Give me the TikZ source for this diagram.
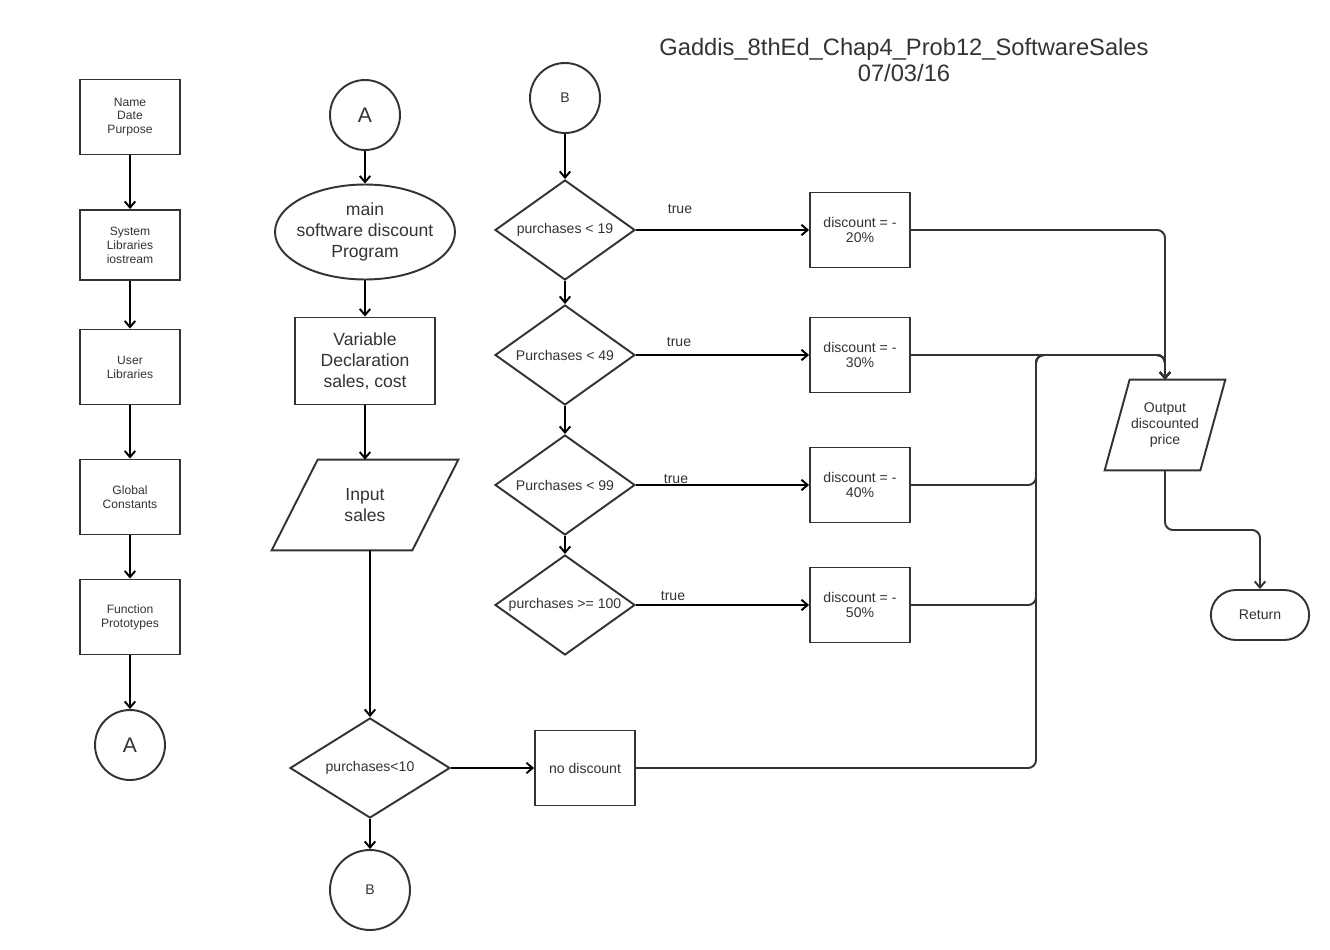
\documentclass[tikz,border=0pt]{standalone}
\usepackage{fontspec}
\setmainfont{Liberation Sans}
\usetikzlibrary{shapes.geometric,shapes.misc,arrows.meta}
\definecolor{ink}{HTML}{333333}

\begin{document}
\begin{tikzpicture}[x=0.02cm,y=-0.02cm,
    >={Straight Barb[length=3.5pt,width=6pt]},
    every node/.style={text=ink,font=\fontsize{8}{9}\selectfont,align=center},
    smallbox/.style={draw=ink,line width=1.1pt,minimum width=2cm,minimum height=1.5cm,inner sep=1pt,font=\fontsize{6.9}{7.9}\selectfont},
    box/.style={draw=ink,line width=1.1pt,minimum width=2cm,minimum height=1.5cm,inner sep=1pt},
    bigbox/.style={box,minimum width=2.8cm,minimum height=1.74cm,font=\fontsize{10}{11.9}\selectfont},
    decision/.style={draw=ink,line width=1.1pt,diamond,aspect=1.4,minimum width=2.8cm,minimum height=2cm,inner sep=0pt},
    connector/.style={draw=ink,line width=1.1pt,circle,minimum size=1.4cm,inner sep=0pt},
    iobody/.style={inner sep=1pt},
    slanted/.style={draw=ink,line width=1.1pt,line join=miter},
    terminal/.style={draw=ink,line width=1.1pt,rounded rectangle,minimum width=2.2cm,minimum height=1cm},
    flow/.style={->,line width=1.1pt},
    merge/.style={->,draw=ink,line width=1.1pt,rounded corners=4.5pt}]
    \useasboundingbox (0,0) rectangle (1330,950);
    % title
    \node[font=\fontsize{13.5}{14.7}\selectfont] at (904,60) (title) {Gaddis\_8thEd\_Chap4\_Prob12\_SoftwareSales\\07/03/16};
    % left column
    \node[smallbox] at (130,117) (header) {Name\\Date\\Purpose};
    \node[smallbox,minimum height=1.4cm] at (130,245) (syslib) {System\\Libraries\\iostream};
    \node[smallbox] at (130,367) (userlib) {User\\Libraries};
    \node[smallbox] at (130,497) (globals) {Global\\Constants};
    \node[smallbox] at (130,617) (protos) {Function\\Prototypes};
    \node[connector,font=\fontsize{12}{13}\selectfont] at (130,745) (a_out) {A};
    \draw[flow] (header)--(syslib);
    \draw[flow] (syslib)--(userlib);
    \draw[flow] (userlib)--(globals);
    \draw[flow] (globals)--(protos);
    \draw[flow] (protos)--(a_out);
    % main column
    \node[connector,font=\fontsize{12}{13}\selectfont] at (365,115) (a_in) {A};
    \node[draw=ink,line width=1.1pt,ellipse,minimum width=3.6cm,minimum height=1.9cm,inner xsep=-3.5pt,inner ysep=0pt,font=\fontsize{10}{11.9}\selectfont] at (365,232) (main) {main\\software discount\\Program};
    \node[bigbox] at (365,361) (vars) {Variable\\Declaration\\sales, cost};
    \node[iobody,minimum width=2.8cm,minimum height=1.8cm,font=\fontsize{10}{11.9}\selectfont] at (365,505) (input) {Input\\sales};
    \draw[slanted] ([xshift=-0.46cm]input.south west) -- ([xshift=0.46cm]input.north west)
        -- ([xshift=0.46cm]input.north east) -- ([xshift=-0.46cm]input.south east) -- cycle;
    \node[decision,aspect=1.6,minimum width=3.2cm] at (370,768) (less10) {purchases<10};
    \node[box] at (585,768) (nodisc) {no discount};
    \node[connector,minimum size=1.6cm] at (370,890) (b_out) {B};
    \draw[flow] (a_in)--(main);
    \draw[flow] (main)--(vars);
    \draw[flow] (vars)--(input);
    \draw[flow] (less10.north |- input.south)--(less10.north);
    \draw[flow] (less10)--(nodisc);
    \draw[flow] (less10)--(b_out);
    % discount chain
    \node[connector] at (565,98) (b_in) {B};
    \node[decision] at (565,230) (less19) {purchases < 19};
    \node[decision] at (565,355) (less49) {Purchases < 49};
    \node[decision] at (565,485) (less99) {Purchases < 99};
    \node[decision] at (565,605) (over100) {purchases >= 100};
    \node[box] at (860,230) (d20) {discount = -\\20\%};
    \node[box] at (860,355) (d30) {discount = -\\30\%};
    \node[box] at (860,485) (d40) {discount = -\\40\%};
    \node[box] at (860,605) (d50) {discount = -\\50\%};
    \draw[flow] (b_in)--(less19);
    \draw[flow] (less19)--(less49);
    \draw[flow] (less49)--(less99);
    \draw[flow] (less99)--(over100);
    \draw[flow] (less19)--(d20);
    \draw[flow] (less49)--(d30);
    \draw[flow] (less99)--(d40);
    \draw[flow] (over100)--(d50);
    % true labels
    \node[] at (680,209) (t19) {true};
    \node[] at (679,342) (t49) {true};
    \node[] at (676,479) (t99) {true};
    \node[] at (673,596) (t100) {true};
    % output and return
    \node[iobody,minimum width=1.9cm,minimum height=1.8cm] at (1165,425) (output) {Output\\discounted\\price};
    \draw[slanted] ([xshift=-0.25cm]output.south west) -- ([xshift=0.25cm]output.north west)
        -- ([xshift=0.25cm]output.north east) -- ([xshift=-0.25cm]output.south east) -- cycle;
    \node[terminal] at (1260,615) (ret) {Return};
    \coordinate (bus) at (1036,355);
    \coordinate (bend) at (1212,530);
    \draw[merge] (d20.east) -| (output.north);
    \draw[merge] (d30.east) -| (output.north);
    \draw[merge] (d40.east) -| (bus) -| (output.north);
    \draw[merge] (d50.east) -| (bus) -| (output.north);
    \draw[merge] (nodisc.east) -| (bus) -| (output.north);
    \draw[merge] (output.south) |- (bend) -| (ret.north);
\end{tikzpicture}
\end{document}
